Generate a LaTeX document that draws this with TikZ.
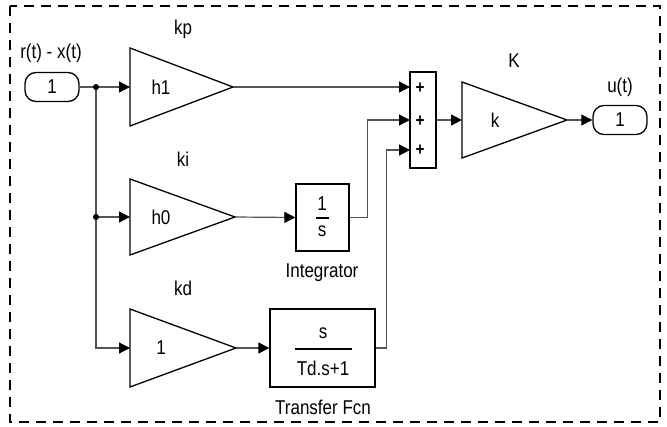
\documentclass[tikz,border=0pt]{standalone}
\usepackage{fontspec}
\setmainfont[FakeStretch=0.85]{Liberation Sans}
\usepackage{tikz}
\usetikzlibrary{arrows.meta}
\definecolor{sigline}{rgb}{0.33,0.33,0.33}

\begin{document}
\begin{tikzpicture}[x=1pt, y=-1pt,
    every node/.style={font=\fontsize{20}{22}\selectfont, inner sep=0pt},
    blk/.style={draw, line width=1.3pt, fill=white},
    port/.style={blk, rounded corners=11pt, minimum width=54pt, minimum height=29pt},
    sig/.style={draw=sigline, line width=1.2pt},
    sigarr/.style={sig, -{Triangle[length=11pt, width=11pt, color=black]}},
    plus/.style={font=\fontsize{18}{20}\selectfont\bfseries}]
        \useasboundingbox (0,0) rectangle (667,426);

        % frame
        \draw[line width=2.4pt, dash pattern=on 10pt off 7pt] (10,6) rectangle (660,422);

        % inport
        \node[port] (in1) at (52,87) {1};
        \node (inlbl) at (51,53) {r(t) - x(t)};
        \coordinate (j1) at (96,87);
        \coordinate (j2) at (96,217);

        % kp
        \draw[blk] (130,48) -- (233,87) -- (130,126) -- cycle;
        \coordinate (gpin) at (130,87);
        \coordinate (gpout) at (233,87);
        \node (gp) at (161,87) {h1};
        \node (kp) at (183,29) {kp};

        % ki
        \draw[blk] (130,179) -- (235,217) -- (130,255) -- cycle;
        \coordinate (giin) at (130,217);
        \coordinate (giout) at (235,217);
        \node (gi) at (161,217) {h0};
        \node (ki) at (183,159) {ki};

        % kd
        \draw[blk] (130,309) -- (236,348) -- (130,387) -- cycle;
        \coordinate (gdin) at (130,348);
        \coordinate (gdout) at (236,348);
        \node (gd) at (161,348) {1};
        \node (kd) at (183,288) {kd};

        % integrator
        \node[blk, minimum width=53pt, minimum height=67pt] (integ) at (322.5,217.5) {};
        \node (inum) at (322,204) {1};
        \draw[line width=1.2pt] (316,218) -- (329,218);
        \node (iden) at (322,231) {s};
        \node (ilbl) at (322,273) {Integrator};

        % transfer fcn
        \node[blk, minimum width=105pt, minimum height=78pt] (tf) at (322.5,348) {};
        \node (tfnum) at (323,333) {s};
        \draw[line width=1.2pt] (295,349) -- (352,349);
        \node (tfden) at (323,368) {Td.s+1};
        \node (tflbl) at (323,407) {Transfer Fcn};

        % sum
        \node[blk, minimum width=26pt, minimum height=96pt] (sum) at (423,120) {};
        \coordinate (s1) at (410,87);
        \coordinate (s2) at (410,120);
        \coordinate (s3) at (410,150);
        \node[plus] (p1) at (420,88) {+};
        \node[plus] (p2) at (420,121) {+};
        \node[plus] (p3) at (420,150) {+};

        % K
        \draw[blk] (462,82) -- (567,120) -- (462,158) -- cycle;
        \coordinate (gkin) at (462,120);
        \coordinate (gkout) at (567,120);
        \node (gk) at (495,120) {k};
        \node (kk) at (514,61) {K};

        % outport
        \node[port] (out1) at (620,120) {1};
        \node (outlbl) at (620,87) {u(t)};

        % signals
        \draw[sig] (in1.east) -- (j1);
        \draw[sigarr] (j1) -- (gpin);
        \draw[sigarr] (j1) |- (gdin);
        \draw[sigarr] (j2) -- (giin);
        \draw[sigarr] (gpout) -- (s1);
        \draw[sigarr] (giout) -- (integ.west);
        \draw[sigarr] (integ.east) -- ++(18,0) |- (s2);
        \draw[sigarr] (gdout) -- (tf.west);
        \draw[sigarr] (tf.east) -- ++(11,0) |- (s3);
        \draw[sigarr] (sum.east) -- (gkin);
        \draw[sigarr] (gkout) -- (out1.west);
        \fill (j1) circle (3pt);
        \fill (j2) circle (3pt);
\end{tikzpicture}
\end{document}
